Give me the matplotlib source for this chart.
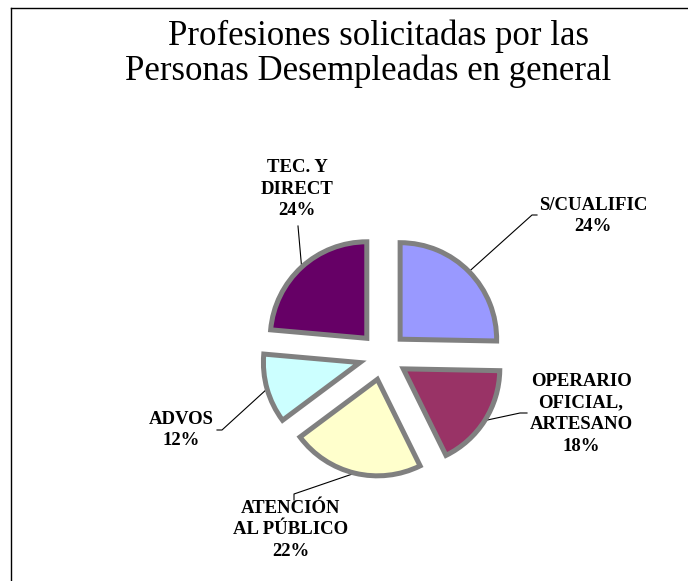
import numpy as np
import matplotlib.pyplot as plt

W, H = 688, 581

categorias = ['S/CUALIFIC', 'OPERARIO\nOFICIAL,\nARTESANO', 'ATENCIÓN\nAL PÚBLICO', 'ADVOS', 'TEC. Y\nDIRECT']
# porcentajes rotulados en el grafico
porcentajes = [24, 18, 22, 12, 24]
# tamano de cada porcion medido sobre el grafico (%)
porciones = [25.3, 17.4, 22.1, 11.6, 23.6]
colores = ['#9999FF', '#993366', '#FFFFCC', '#CCFFFF', '#660066']

# layout en pixeles (origen arriba a la izquierda)
centro = (383, 356)
radio = 96.5
separacion = 24
pos_texto = [(593, 216), (581, 414), (291, 530), (181, 430), (297, 189)]
guias = [[(532, 215), (537, 215)],
         [(520, 413), (527, 413)],
         [(294, 494), (294, 500)],
         [(222, 430), (217, 430)],
         [(298, 226)]]

fig = plt.figure(figsize=(W / 100, H / 100), dpi=100)
ax = fig.add_axes([0, 0, 1, 1])

wedges, _ = ax.pie(porciones, colors=colores, startangle=90, counterclock=False,
                   center=(centro[0], H - centro[1]), radius=radio,
                   explode=[separacion] * len(porciones),
                   wedgeprops=dict(edgecolor='#808080', linewidth=3.6))

ax.set_xlim(0, W)
ax.set_ylim(0, H)
ax.set_aspect('auto')
ax.axis('off')

for w, cat, pct, (tx, ty), guia in zip(wedges, categorias, porcentajes, pos_texto, guias):
    a = np.deg2rad((w.theta1 + w.theta2) / 2)
    x0 = w.center[0] + w.r * np.cos(a)
    y0 = w.center[1] + w.r * np.sin(a)
    xs = [x0] + [p[0] for p in guia]
    ys = [y0] + [H - p[1] for p in guia]
    ax.plot(xs, ys, color='black', lw=0.8, zorder=0.5)
    ax.text(tx, H - ty, f'{cat}\n{pct}%', ha='center', va='center', fontsize=13.5,
            fontweight='bold', family='Liberation Serif', linespacing=1.35)

# marco
ax.plot([11, W], [H - 8, H - 8], color='black', lw=1)
ax.plot([11, 11], [H - 8, 0], color='black', lw=1)

ax.text(378, H - 45, 'Profesiones solicitadas por las', ha='center', va='baseline',
        fontsize=25, family='Liberation Serif')
ax.text(368, H - 80, 'Personas Desempleadas en general', ha='center', va='baseline',
        fontsize=25, family='Liberation Serif')

fig.savefig('out.png', dpi=100)
